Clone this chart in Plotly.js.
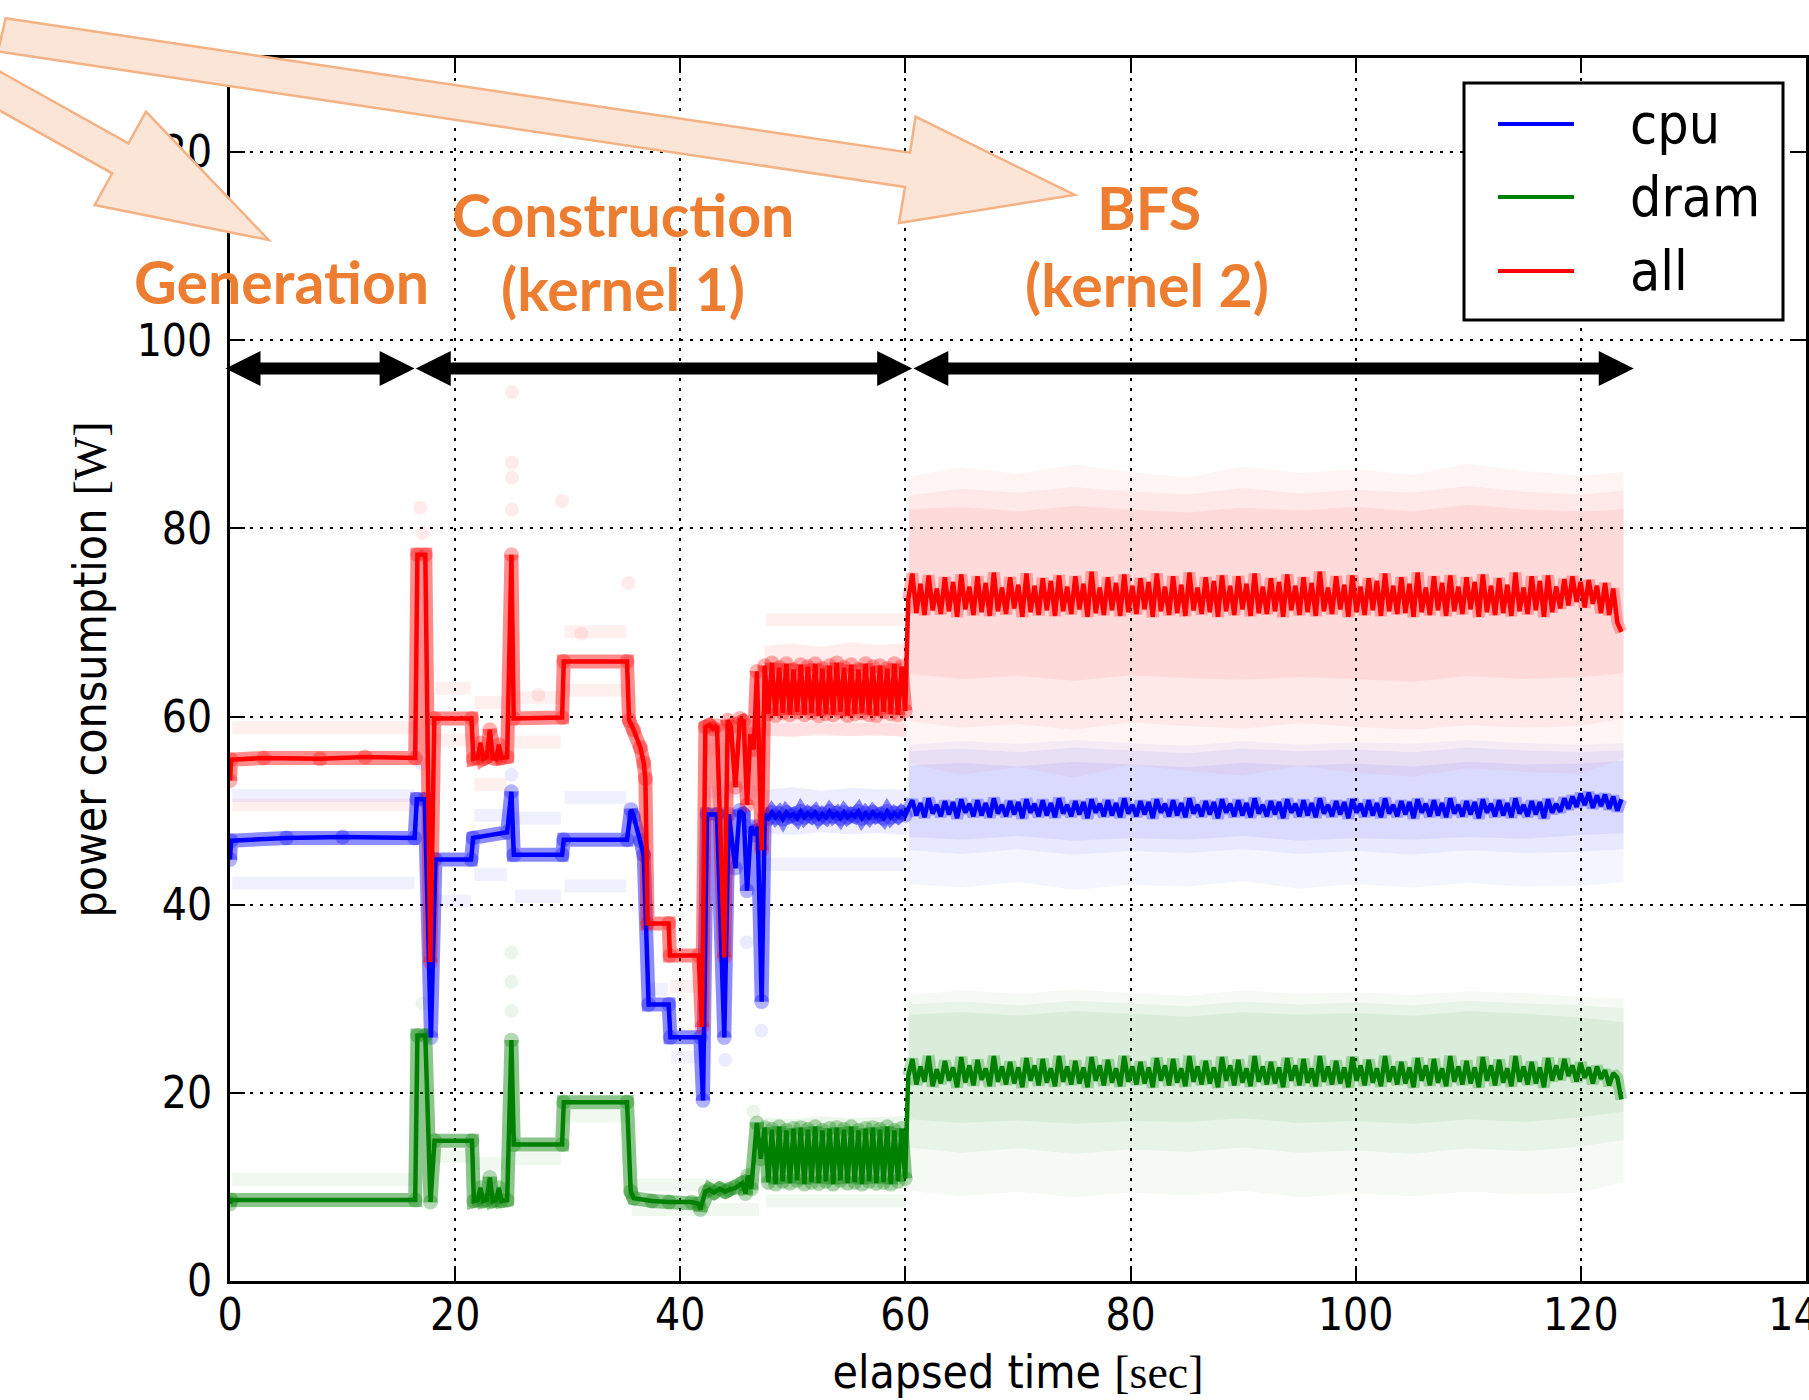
<!DOCTYPE html>
<html><head><meta charset="utf-8">
<script src="https://cdn.plot.ly/plotly-3.0.1.min.js"></script>
<style>html,body{margin:0;padding:0;background:#fff}</style>
</head><body>
<div id="chart" style="width:1809px;height:1400px"></div>
<script>
// ---------------- DATA ----------------
// Generation + construction phase, key samples (time s, power W)
const cpuPreT = [0, 0.1, 5, 10, 16.4, 16.6, 17.3, 17.85, 18.25, 21.42, 21.6, 24.62, 25.0, 25.21, 29.5, 29.65, 35.27, 35.62, 35.86, 36.45, 36.75, 37.19, 38.97, 39.12, 41.78, 42.02, 42.37, 43.26, 43.91, 44.3, 44.89, 45.27, 45.63, 45.93, 46.28, 46.67, 46.87, 47.23];
const cpuPreW = [44.8, 46.8, 47.1, 47.2, 47.1, 51.2, 51.2, 25.9, 44.8, 44.8, 47.1, 47.7, 52.0, 45.3, 45.3, 46.9, 46.9, 50.1, 49.4, 46.8, 45.3, 29.4, 29.4, 25.9, 25.9, 19.2, 49.6, 49.6, 25.9, 49.6, 43.9, 50.0, 49.6, 41.5, 48.3, 47.4, 48.3, 29.7];

const dramPreT = [0, 0.1, 16.45, 16.65, 17.35, 17.81, 18.17, 21.5, 21.66, 22.0, 22.25, 22.5, 22.8, 23.08, 23.35, 23.65, 23.88, 24.1, 24.62, 25.0, 25.21, 29.5, 29.65, 35.27, 35.6, 35.86, 37.5, 39.0, 41.0, 41.63, 41.78, 42.23, 42.6, 43.0, 43.5, 44.0, 44.3, 44.89, 45.5, 45.8, 46.0, 46.3, 46.8, 47.15];
const dramPreW = [8.2, 8.6, 8.6, 26.1, 26.1, 8.4, 14.9, 14.9, 8.5, 8.6, 9.9, 8.5, 8.6, 11.0, 8.5, 8.6, 9.9, 8.5, 8.6, 25.6, 14.5, 14.5, 19.0, 19.0, 9.5, 8.8, 8.5, 8.4, 8.4, 8.2, 7.6, 9.5, 9.7, 9.4, 9.8, 9.5, 9.7, 9.9, 10.4, 9.3, 11.2, 9.8, 16.8, 13.0];

const allPreT = [0, 0.1, 3, 8, 12, 16.45, 16.65, 17.35, 17.8, 18.15, 21.45, 21.62, 22.0, 22.25, 22.5, 22.8, 23.08, 23.35, 23.65, 23.88, 24.1, 24.62, 25.0, 25.2, 29.5, 29.65, 35.27, 35.45, 35.86, 36.45, 36.75, 36.9, 37.1, 38.97, 39.08, 41.63, 41.93, 42.23, 42.6, 42.9, 43.26, 43.91, 44.21, 44.5, 44.89, 45.3, 45.63, 45.93, 46.22, 46.52, 46.81, 47.23];
const allPreW = [53.2, 55.4, 55.6, 55.5, 55.7, 55.6, 77.2, 77.2, 33.9, 59.8, 59.8, 55.5, 55.6, 57.2, 55.5, 55.7, 58.6, 55.6, 55.5, 57.0, 55.6, 55.7, 77.2, 59.8, 59.9, 65.85, 65.85, 59.6, 58.6, 56.7, 55.1, 53.4, 38.0, 38.0, 34.6, 34.6, 27.0, 58.9, 59.1, 58.7, 59.0, 34.4, 59.6, 58.9, 52.5, 59.8, 59.5, 50.6, 58.1, 56.5, 64.8, 45.8];

// Late construction: oscillating samples, every 0.32 s from 47.5 s
const oscStart = 47.5, oscStep = 0.32;
const cpuOsc  = [49.6, 49.2, 49.8, 49.3, 49.7, 49.1, 49.8, 49.4, 49.6, 49.2, 49.9, 49.3, 49.7, 49.4, 49.8, 49.2, 49.6, 49.3, 49.9, 49.4, 49.7, 49.2, 49.8, 49.3, 49.6, 49.4, 49.9, 49.2, 49.7, 49.3, 49.8, 49.4, 49.6, 49.2, 49.9, 49.3, 49.7, 49.4, 49.8, 49.5];
const dramOsc = [16.3, 10.5, 16.1, 10.3, 16.4, 10.6, 16.0, 10.4, 16.2, 10.7, 16.3, 10.3, 16.1, 10.5, 16.4, 10.4, 16.0, 10.6, 16.2, 10.3, 16.3, 10.7, 16.1, 10.4, 16.4, 10.5, 16.0, 10.3, 16.2, 10.6, 16.3, 10.4, 16.1, 10.5, 16.4, 10.3, 16.0, 10.6, 16.2, 10.9];
const allOsc  = [65.4, 60.3, 65.7, 60.1, 65.2, 60.4, 65.6, 60.2, 65.0, 60.5, 65.5, 60.2, 65.3, 60.4, 65.6, 60.1, 65.1, 60.3, 65.4, 60.2, 65.7, 60.5, 65.2, 60.1, 65.5, 60.3, 65.0, 60.4, 65.6, 60.2, 65.3, 60.1, 65.4, 60.5, 65.1, 60.3, 65.6, 60.2, 65.3, 60.6];

// BFS phase: oscillating samples, every 0.362 s from 60.25 s
const bfsStart = 60.25, bfsStep = 0.362;
const allBfs = [
72.4, 75.2, 71.0, 74.1, 70.8, 75.0, 71.3, 73.6, 70.9, 74.8,
71.2, 74.3, 70.6, 75.1, 71.4, 73.8, 70.8, 74.9, 71.1, 74.2,
70.7, 75.3, 71.2, 73.7, 70.9, 74.8, 71.5, 74.0, 70.6, 75.2,
71.1, 73.9, 70.8, 74.7, 71.3, 74.4, 70.7, 75.0, 71.2, 73.8,
70.9, 74.9, 71.4, 74.1, 70.6, 75.4, 71.0, 73.7, 70.8, 74.8,
71.3, 74.2, 70.7, 75.1, 71.1, 73.9, 70.9, 74.7, 71.4, 74.3,
70.6, 75.2, 71.2, 73.8, 70.8, 74.9, 71.0, 74.0, 70.7, 75.3,
71.3, 73.7, 70.9, 74.8, 71.1, 74.4, 70.6, 75.0, 71.2, 73.9,
70.8, 74.9, 71.4, 74.1, 70.7, 75.2, 71.0, 73.8, 70.9, 74.7,
71.2, 74.3, 70.6, 75.1, 71.3, 73.9, 70.8, 74.8, 71.1, 74.2,
70.7, 75.4, 71.2, 73.7, 70.9, 74.9, 71.4, 74.0, 70.6, 75.0,
71.1, 73.8, 70.8, 74.7, 71.3, 74.4, 70.7, 75.2, 71.2, 73.9,
70.9, 74.8, 71.0, 74.1, 70.6, 75.3, 71.1, 73.7, 70.8, 74.9,
71.3, 74.2, 70.7, 75.0, 71.2, 73.8, 70.9, 74.8, 71.4, 74.3,
70.6, 75.1, 71.1, 73.9, 70.8, 74.7, 71.0, 74.0, 70.7, 75.3,
71.2, 73.7, 70.9, 74.9, 71.3, 74.4, 70.6, 75.0, 71.1, 73.8,
71.5, 74.6, 71.8, 74.9, 72.2, 74.3, 71.6, 74.5, 72.0, 73.9,
71.0, 74.2, 70.8, 73.6, 70.0, 69.0];
const cpuBfs = [
50.2, 51.1, 49.5, 50.8, 49.3, 51.3, 49.7, 50.6, 49.4, 51.0,
49.6, 50.9, 49.2, 51.2, 49.8, 50.7, 49.4, 51.1, 49.5, 50.8,
49.3, 51.3, 49.7, 50.6, 49.4, 51.0, 49.6, 50.9, 49.2, 51.2,
49.8, 50.7, 49.4, 51.1, 49.5, 50.8, 49.3, 51.3, 49.7, 50.6,
49.4, 51.0, 49.6, 50.9, 49.2, 51.2, 49.8, 50.7, 49.4, 51.1,
49.5, 50.8, 49.3, 51.3, 49.7, 50.6, 49.4, 51.0, 49.6, 50.9,
49.2, 51.2, 49.8, 50.7, 49.4, 51.1, 49.5, 50.8, 49.3, 51.3,
49.7, 50.6, 49.4, 51.0, 49.6, 50.9, 49.2, 51.2, 49.8, 50.7,
49.4, 51.1, 49.5, 50.8, 49.3, 51.3, 49.7, 50.6, 49.4, 51.0,
49.6, 50.9, 49.2, 51.2, 49.8, 50.7, 49.4, 51.1, 49.5, 50.8,
49.3, 51.3, 49.7, 50.6, 49.4, 51.0, 49.6, 50.9, 49.2, 51.2,
49.8, 50.7, 49.4, 51.1, 49.5, 50.8, 49.3, 51.3, 49.7, 50.6,
49.4, 51.0, 49.6, 50.9, 49.2, 51.2, 49.8, 50.7, 49.4, 51.1,
49.5, 50.8, 49.3, 51.3, 49.7, 50.6, 49.4, 51.0, 49.6, 50.9,
49.2, 51.2, 49.8, 50.7, 49.4, 51.1, 49.5, 50.8, 49.3, 51.3,
49.7, 50.6, 49.4, 51.0, 49.6, 50.9, 49.2, 51.2, 49.8, 50.7,
49.9, 51.3, 50.2, 51.5, 50.4, 51.8, 50.6, 51.9, 50.3, 51.6,
50.5, 51.7, 50.2, 51.5, 50.0, 51.2];
const dramBfs = [
21.8, 23.6, 20.9, 22.8, 21.2, 23.9, 20.7, 22.5, 21.0, 23.4,
21.3, 22.7, 20.6, 23.8, 21.1, 22.9, 20.8, 23.5, 21.4, 22.6,
20.7, 23.9, 21.2, 22.8, 20.9, 23.3, 21.0, 22.7, 20.6, 23.7,
21.3, 22.9, 20.8, 23.6, 21.1, 22.6, 20.7, 23.9, 21.2, 22.8,
20.9, 23.4, 21.0, 22.7, 20.6, 23.8, 21.3, 22.9, 20.8, 23.5,
21.1, 22.6, 20.7, 23.9, 21.2, 22.8, 20.9, 23.3, 21.0, 22.7,
20.6, 23.7, 21.3, 22.9, 20.8, 23.6, 21.1, 22.6, 20.7, 23.9,
21.2, 22.8, 20.9, 23.4, 21.0, 22.7, 20.6, 23.8, 21.3, 22.9,
20.8, 23.5, 21.1, 22.6, 20.7, 23.9, 21.2, 22.8, 20.9, 23.3,
21.0, 22.7, 20.6, 23.7, 21.3, 22.9, 20.8, 23.6, 21.1, 22.6,
20.7, 23.9, 21.2, 22.8, 20.9, 23.4, 21.0, 22.7, 20.6, 23.8,
21.3, 22.9, 20.8, 23.5, 21.1, 22.6, 20.7, 23.9, 21.2, 22.8,
20.9, 23.3, 21.0, 22.7, 20.6, 23.7, 21.3, 22.9, 20.8, 23.6,
21.1, 22.6, 20.7, 23.9, 21.2, 22.8, 20.9, 23.4, 21.0, 22.7,
20.6, 23.8, 21.3, 22.9, 20.8, 23.5, 21.1, 22.6, 20.7, 23.9,
21.2, 22.8, 20.9, 23.3, 21.0, 22.7, 20.6, 23.7, 21.3, 22.9,
21.4, 23.6, 21.8, 22.9, 21.2, 23.2, 21.6, 22.7, 21.0, 22.8,
21.5, 22.4, 20.8, 22.1, 21.6, 19.3];

// Spread of raw samples (faint clouds) during BFS: time, low / high bounds for 3 densities
const bfsCloudT = [60.3, 65, 70, 75, 80, 85, 90, 95, 100, 105, 110, 115, 120, 123.8];
const allCloudOuterHi = [85.5, 86.5, 85.8, 86.8, 86.0, 85.4, 86.6, 85.9, 86.3, 85.7, 86.9, 86.1, 85.6, 86.0];
const allCloudOuterLo = [55.0, 53.8, 54.6, 53.5, 54.9, 54.2, 53.7, 54.8, 54.0, 53.6, 54.5, 54.1, 53.9, 55.5];
const allCloudMidHi   = [83.5, 84.2, 83.8, 84.4, 83.9, 83.6, 84.3, 83.7, 84.1, 83.8, 84.5, 83.9, 83.6, 84.0];
const allCloudMidLo   = [59.5, 58.8, 59.2, 58.6, 59.4, 59.0, 58.7, 59.3, 58.9, 58.6, 59.1, 58.8, 59.0, 59.8];
const allCloudInHi    = [82.0, 82.3, 81.8, 82.4, 82.0, 81.7, 82.2, 81.9, 82.3, 81.8, 82.5, 82.0, 81.8, 82.0];
const allCloudInLo    = [64.5, 64.0, 64.3, 63.8, 64.4, 64.1, 63.9, 64.2, 64.0, 63.7, 64.3, 64.0, 64.2, 64.6];
const cpuCloudOuterHi = [57.0, 57.4, 57.1, 57.5, 57.2, 56.9, 57.4, 57.0, 57.3, 57.1, 57.5, 57.2, 57.0, 57.2];
const cpuCloudOuterLo = [42.2, 41.8, 42.4, 41.6, 42.1, 41.9, 42.5, 41.7, 42.2, 41.8, 42.3, 41.9, 42.0, 42.4];
const cpuCloudMidHi   = [56.3, 56.6, 56.2, 56.7, 56.4, 56.1, 56.6, 56.3, 56.5, 56.2, 56.7, 56.4, 56.2, 56.4];
const cpuCloudMidLo   = [45.8, 45.4, 45.9, 45.3, 45.7, 45.5, 45.9, 45.4, 45.7, 45.3, 45.8, 45.5, 45.6, 45.9];
const cpuCloudInHi    = [54.8, 55.1, 54.7, 55.2, 54.9, 54.6, 55.1, 54.8, 55.0, 54.7, 55.2, 54.9, 55.0, 55.3];
const cpuCloudInLo    = [47.2, 46.9, 47.3, 46.8, 47.1, 46.9, 47.3, 46.8, 47.1, 46.9, 47.2, 47.0, 47.4, 47.6];
const dramCloudOuterHi = [30.4, 30.9, 30.5, 31.0, 30.6, 30.3, 30.9, 30.5, 30.7, 30.4, 30.8, 30.6, 30.2, 30.0];
const dramCloudOuterLo = [9.6, 9.0, 9.5, 8.9, 9.4, 9.1, 9.6, 8.9, 9.3, 9.0, 9.5, 9.2, 9.4, 10.5];
const dramCloudMidHi   = [29.4, 29.7, 29.3, 29.8, 29.5, 29.2, 29.7, 29.4, 29.6, 29.3, 29.8, 29.5, 29.3, 29.0];
const dramCloudMidLo   = [14.2, 13.6, 14.1, 13.5, 14.0, 13.7, 14.2, 13.6, 13.9, 13.5, 14.1, 13.8, 14.3, 15.0];
const dramCloudInHi    = [28.3, 28.6, 28.2, 28.7, 28.4, 28.1, 28.6, 28.3, 28.5, 28.2, 28.7, 28.4, 28.0, 27.5];
const dramCloudInLo    = [17.2, 16.8, 17.1, 16.7, 17.0, 16.9, 17.3, 16.8, 17.0, 16.7, 17.2, 16.9, 17.4, 18.0];

// Spread of raw samples during late construction
const oscCloudT = [47.5, 50, 52.5, 55, 57.5, 60.2];
const allOscCloudHi  = [67.5, 67.8, 67.4, 67.9, 67.6, 67.8];
const allOscCloudLo  = [58.0, 57.8, 58.2, 57.9, 58.1, 57.8];
const cpuOscCloudHi  = [52.2, 52.5, 52.1, 52.4, 52.3, 52.2];
const cpuOscCloudLo  = [47.6, 47.4, 47.7, 47.5, 47.6, 47.4];
const dramOscCloudHi = [17.4, 17.2, 17.5, 17.3, 17.4, 17.6];
const dramOscCloudLo = [9.6, 9.8, 9.5, 9.7, 9.6, 9.8];

// Rows of faint raw samples (start s, end s, level W)
const allRowStart = [0.2, 0.2, 18.2, 18.2, 21.7, 21.7, 25.3, 25.3, 29.7, 29.7, 39.1, 42.3, 47.6, 47.6];
const allRowEnd   = [16.4, 16.4, 21.4, 21.4, 24.6, 24.6, 29.4, 29.4, 35.2, 35.2, 41.6, 47.0, 60.0, 60.0];
const allRowLevel = [58.8, 50.6, 57.5, 63.0, 52.8, 61.5, 57.3, 62.0, 62.8, 69.0, 31.3, 56.5, 58.6, 70.3];
const cpuRowStart = [0.2, 0.2, 18.3, 21.7, 21.7, 25.3, 25.3, 29.7, 29.7, 37.2, 39.2, 42.3, 47.6];
const cpuRowEnd   = [16.4, 16.4, 21.4, 24.6, 24.6, 29.4, 29.4, 35.2, 35.2, 38.9, 41.6, 47.0, 60.0];
const cpuRowLevel = [51.6, 42.3, 40.4, 49.5, 43.2, 40.9, 49.2, 42.0, 51.4, 31.0, 23.8, 52.0, 44.3];
const dramRowStart = [0.2, 18.3, 21.7, 25.3, 29.7, 35.7, 35.7, 47.6];
const dramRowEnd   = [16.4, 21.4, 24.6, 29.4, 35.2, 47.0, 47.0, 60.0];
const dramRowLevel = [10.8, 13.3, 12.5, 13.0, 17.5, 7.6, 10.2, 8.5];

// Isolated faint raw samples
const allDotT = [16.9, 17.1, 25.05, 25.05, 25.05, 25.05, 29.5, 35.4, 27.4, 31.2];
const allDotW = [82.2, 79.5, 94.5, 87.0, 85.4, 82.0, 82.9, 74.2, 62.3, 68.8];
const cpuDotT = [25.0, 45.9, 47.2, 44.0, 17.0];
const cpuDotW = [53.8, 36.0, 26.6, 23.5, 55.0];
const dramDotT = [25.0, 25.0, 25.0, 17.1, 46.5];
const dramDotW = [34.9, 31.8, 28.7, 29.5, 18.0];

// Phases (s)
const phaseNames = ['Generation', 'Construction', 'BFS'];
const phaseStart = [-0.4, 16.5, 60.7];
const phaseEnd   = [16.4, 60.6, 124.7];

// Axis ticks
const xTicks = [0, 20, 40, 60, 80, 100, 120, 140];
const yTicks = [0, 20, 40, 60, 80, 100, 120];
const seriesNames = ['cpu', 'dram', 'all'];

// ---------------- BUILD ----------------
const COL = {cpu: [0, 0, 255], dram: [0, 128, 0], all: [255, 0, 0]};
const rgba = (c, a) => `rgba(${c[0]},${c[1]},${c[2]},${a})`;
const FONT = "'DejaVu Sans Condensed', 'DejaVu Sans', sans-serif";

function regular(start, step, arr) { return arr.map((_, i) => +(start + i * step).toFixed(3)); }
function fullSeries(preT, preW, osc, bfs) {
  return {
    t: preT.concat(regular(oscStart, oscStep, osc), regular(bfsStart, bfsStep, bfs)),
    w: preW.concat(osc, bfs),
    tA: preT.concat(regular(oscStart, oscStep, osc)),
    wA: preW.concat(osc),
    tB: regular(bfsStart, bfsStep, bfs),
    wB: bfs
  };
}
const S = {
  cpu: fullSeries(cpuPreT, cpuPreW, cpuOsc, cpuBfs),
  dram: fullSeries(dramPreT, dramPreW, dramOsc, dramBfs),
  all: fullSeries(allPreT, allPreW, allOsc, allBfs)
};
function band(T, hi, lo, color) {
  return {x: T.concat(T.slice().reverse()), y: hi.concat(lo.slice().reverse()),
    type: 'scatter', mode: 'lines', fill: 'toself', fillcolor: color,
    line: {width: 0}, hoverinfo: 'skip', showlegend: false};
}
function rows(st, en, lv, color) {
  const x = [], y = [];
  st.forEach((s, i) => { x.push(s, en[i], null); y.push(lv[i], lv[i], null); });
  return {x, y, type: 'scatter', mode: 'lines', line: {width: 13, color}, hoverinfo: 'skip', showlegend: false};
}
function dots(t, w, color) {
  return {x: t, y: w, type: 'scatter', mode: 'markers', marker: {size: 14, color, line: {width: 0}}, hoverinfo: 'skip', showlegend: false};
}

const traces = [];
const clouds = {
  all: [allCloudOuterHi, allCloudOuterLo, allCloudMidHi, allCloudMidLo, allCloudInHi, allCloudInLo, allOscCloudHi, allOscCloudLo],
  cpu: [cpuCloudOuterHi, cpuCloudOuterLo, cpuCloudMidHi, cpuCloudMidLo, cpuCloudInHi, cpuCloudInLo, cpuOscCloudHi, cpuOscCloudLo],
  dram: [dramCloudOuterHi, dramCloudOuterLo, dramCloudMidHi, dramCloudMidLo, dramCloudInHi, dramCloudInLo, dramOscCloudHi, dramOscCloudLo]
};
['all', 'cpu', 'dram'].forEach(k => {
  const c = clouds[k], col = COL[k];
  traces.push(band(bfsCloudT, c[0], c[1], rgba(col, 0.04)));
  traces.push(band(bfsCloudT, c[2], c[3], rgba(col, 0.05)));
  traces.push(band(bfsCloudT, c[4], c[5], rgba(col, 0.06)));
  traces.push(band(oscCloudT, c[6], c[7], rgba(col, 0.07)));
});
traces.push(rows(allRowStart, allRowEnd, allRowLevel, rgba(COL.all, 0.06)));
traces.push(rows(cpuRowStart, cpuRowEnd, cpuRowLevel, rgba(COL.cpu, 0.06)));
traces.push(rows(dramRowStart, dramRowEnd, dramRowLevel, rgba(COL.dram, 0.06)));
traces.push(dots(allDotT, allDotW, rgba(COL.all, 0.08)));
traces.push(dots(cpuDotT, cpuDotW, rgba(COL.cpu, 0.08)));
traces.push(dots(dramDotT, dramDotW, rgba(COL.dram, 0.08)));

seriesNames.forEach(k => {
  const s = S[k], col = COL[k];
  traces.push({x: s.tA, y: s.wA, type: 'scatter', mode: 'lines+markers',
    line: {width: 14, color: rgba(col, 0.45)}, marker: {size: 15, color: rgba(col, 0.3)},
    hoverinfo: 'skip', showlegend: false});
  traces.push({x: s.tB, y: s.wB, type: 'scatter', mode: 'lines',
    line: {width: 12, color: rgba(col, 0.28)}, hoverinfo: 'skip', showlegend: false});
});
seriesNames.forEach(k => {
  const s = S[k];
  traces.push({x: s.t, y: s.w, name: k, type: 'scatter', mode: 'lines',
    line: {width: 4.5, color: rgba(COL[k], 1)}, showlegend: false});
});

// ---------------- LAYOUT ----------------
const L = 230, R = 3, T = 58, B = 119, W = 1809, H = 1400;
const PW = W - L - R, PH = H - T - B;
const px = X => (X - L) / PW;           // pixel -> paper
const py = Y => (H - B - Y) / PH;
const path = pts => 'M' + pts.map(p => px(p[0]).toFixed(5) + ',' + py(p[1]).toFixed(5)).join(' L') + ' Z';

const shapes = [];
// big block arrows (drawn on top)
const arrowStyle = {type: 'path', xref: 'paper', yref: 'paper', layer: 'above',
  fillcolor: '#FBE5D6', line: {color: '#F4B183', width: 2.5}};
shapes.push(Object.assign({}, arrowStyle, {path: path([[-20, 60.5], [128.4, 143.3], [146, 111.7], [268.7, 240], [94.7, 205], [112.2, 173.3], [-20, 99.6]])}));
shapes.push(Object.assign({}, arrowStyle, {path: path([[5.6, 18.3], [910, 152.7], [915.5, 116.7], [1074.7, 195], [899, 223], [905, 187], [-2, 51.4]])}));

// phase double arrows
const yLev = 97 / 130, hl = 35 / PW, hh = 17.5 / PH;
phaseStart.forEach((s, i) => {
  const x0 = s / 140, x1 = phaseEnd[i] / 140;
  shapes.push({type: 'line', xref: 'paper', yref: 'paper', layer: 'above', x0: x0 + hl * 0.9, x1: x1 - hl * 0.9, y0: yLev, y1: yLev, line: {color: 'black', width: 12}});
  shapes.push({type: 'path', xref: 'paper', yref: 'paper', layer: 'above', fillcolor: 'black', line: {width: 0},
    path: `M${x0},${yLev} L${x0 + hl},${yLev + hh} L${x0 + hl},${yLev - hh} Z`});
  shapes.push({type: 'path', xref: 'paper', yref: 'paper', layer: 'above', fillcolor: 'black', line: {width: 0},
    path: `M${x1},${yLev} L${x1 - hl},${yLev + hh} L${x1 - hl},${yLev - hh} Z`});
});

// legend (box + line samples)
shapes.push({type: 'rect', xref: 'paper', yref: 'paper', layer: 'above', x0: px(1464), x1: px(1783), y0: py(83), y1: py(320),
  fillcolor: 'white', line: {color: 'black', width: 3}});
const legY = [124, 197, 271];
seriesNames.forEach((k, i) => {
  shapes.push({type: 'line', xref: 'paper', yref: 'paper', layer: 'above', x0: px(1498), x1: px(1574), y0: py(legY[i]), y1: py(legY[i]),
    line: {color: rgba(COL[k], 1), width: 4}});
});

const ORANGE = '#ED7D31';
const labFont = {family: 'Lato, "Open Sans", sans-serif', size: 59, color: ORANGE, weight: 700};
const annotations = [
  {text: phaseNames[0], x: px(281), y: py(281), xref: 'paper', yref: 'paper', showarrow: false, font: labFont, xanchor: 'center', yanchor: 'middle'},
  {text: phaseNames[1], x: px(623), y: py(214), xref: 'paper', yref: 'paper', showarrow: false, font: labFont, xanchor: 'center', yanchor: 'middle'},
  {text: '(kernel 1)', x: px(623), y: py(289), xref: 'paper', yref: 'paper', showarrow: false, font: labFont, xanchor: 'center', yanchor: 'middle'},
  {text: phaseNames[2], x: px(1149), y: py(208), xref: 'paper', yref: 'paper', showarrow: false, font: labFont, xanchor: 'center', yanchor: 'middle'},
  {text: '(kernel 2)', x: px(1147), y: py(285), xref: 'paper', yref: 'paper', showarrow: false, font: labFont, xanchor: 'center', yanchor: 'middle'}
];
seriesNames.forEach((k, i) => {
  annotations.push({text: k, x: px(1628), y: py(legY[i]), xref: 'paper', yref: 'paper', showarrow: false,
    xanchor: 'left', yanchor: 'middle', font: {family: FONT, size: 55, color: 'black'}});
});

const axisCommon = {
  ticks: 'inside', ticklen: 15, tickwidth: 2, tickcolor: 'black',
  showline: true, linewidth: 3, linecolor: 'black', mirror: 'ticks',
  showgrid: true, gridcolor: 'black', gridwidth: 2, griddash: '3px,7px',
  zeroline: false, tickfont: {family: FONT, size: 44, color: 'black'}, automargin: false,
  ticklabeloverflow: 'allow'
};
const layout = {
  width: W, height: H,
  margin: {l: L, r: R, t: T, b: B},
  paper_bgcolor: 'white', plot_bgcolor: 'white',
  showlegend: false,
  font: {family: FONT, size: 46, color: 'black'},
  xaxis: Object.assign({}, axisCommon, {range: [0, 140], tickvals: xTicks, ticktext: xTicks.map(String), ticklabelstandoff: -7,
    title: {text: 'elapsed time <span style="font-family:\'Liberation Serif\',serif">[sec]</span>', font: {family: FONT, size: 46}, standoff: 18}}),
  yaxis: Object.assign({}, axisCommon, {range: [0, 130], tickvals: yTicks, ticktext: yTicks.map(String), ticklabelstandoff: 6,
    title: {text: 'power consumption <span style="font-family:\'Liberation Serif\',serif">[W]</span>', font: {family: FONT, size: 46}, standoff: 16}}),
  shapes, annotations
};

Plotly.newPlot('chart', traces, layout, {staticPlot: true, displayModeBar: false});
</script>
</body></html>
